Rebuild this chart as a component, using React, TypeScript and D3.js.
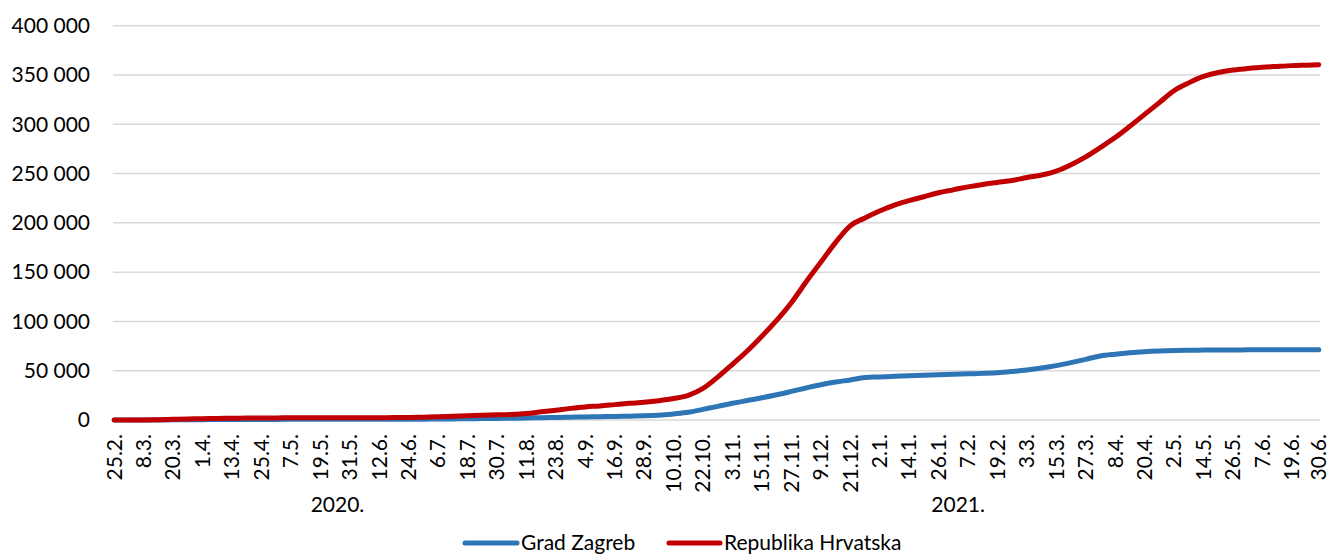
import React from "react";
import * as d3 from "d3";

// Tick labels on the category axis (every 12th day, plus the last day)
const tickLabels: string[] = [
  "25.2.", "8.3.", "20.3.", "1.4.", "13.4.", "25.4.", "7.5.", "19.5.", "31.5.", "12.6.",
  "24.6.", "6.7.", "18.7.", "30.7.", "11.8.", "23.8.", "4.9.", "16.9.", "28.9.", "10.10.",
  "22.10.", "3.11.", "15.11.", "27.11.", "9.12.", "21.12.", "2.1.", "14.1.", "26.1.", "7.2.",
  "19.2.", "3.3.", "15.3.", "27.3.", "8.4.", "20.4.", "2.5.", "14.5.", "26.5.", "7.6.",
  "19.6.", "30.6.",
];
const lastDay = 491; // 25.2.2020 -> 30.6.2021
const tickDays: number[] = tickLabels.map((_, i) => (i === tickLabels.length - 1 ? lastDay : i * 12));

// Values every 6th day (and the last day)
const sampleDays: number[] = d3.range(0, 487, 6).concat([lastDay]);

const republikaHrvatska: number[] = [
  0, 10, 80, 300, 700, 1000, 1300, 1600, 1800, 2000,
  2100, 2150, 2200, 2230, 2250, 2260, 2280, 2300, 2350, 2450,
  2600, 2900, 3300, 3800, 4300, 4800, 5200, 5700, 6600, 8300,
  10000, 11800, 13300, 14300, 15600, 16900, 18000, 19600, 21800, 25000,
  32000, 43500, 56500, 70000, 85000, 101000, 119000, 140000, 160000, 180000,
  197000, 205000, 212000, 218000, 222500, 226500, 230500, 233500, 236500, 239000,
  241000, 243000, 246000, 248500, 252500, 259000, 267000, 276500, 286500, 298000,
  310000, 322000, 334000, 342000, 348500, 352500, 355000, 356500, 357800, 358700,
  359500, 360000, 360400,
];

const gradZagreb: number[] = [
  0, 0, 10, 60, 150, 250, 350, 430, 500, 560,
  600, 630, 650, 660, 670, 675, 680, 690, 700, 730,
  780, 870, 980, 1100, 1250, 1400, 1550, 1750, 2000, 2300,
  2600, 2900, 3150, 3400, 3650, 3900, 4200, 4900, 6200, 7800,
  10800, 13800, 17000, 19800, 22500, 25600, 29000, 32500, 35800, 38500,
  40600, 43000, 43700, 44300, 44800, 45300, 45800, 46300, 46800, 47300,
  47900, 49200, 50800, 52800, 55200, 58200, 61500, 65000, 66800, 68200,
  69200, 69900, 70400, 70700, 70900, 71000, 71100, 71150, 71200, 71250,
  71300, 71300, 71300,
];

const yTicks: number[] = [0, 50000, 100000, 150000, 200000, 250000, 300000, 350000, 400000];

const years: { label: string; day: number }[] = [
  { label: "2020.", day: 91 },
  { label: "2021.", day: 344 },
];

const series = [
  { name: "Grad Zagreb", values: gradZagreb, color: "#2E75B6" },
  { name: "Republika Hrvatska", values: republikaHrvatska, color: "#C00000" },
];

const App: React.FC = () => {
  const width = 1332;
  const height = 555;
  const plotLeft = 113;
  const plotRight = 1320;
  const plotTop = 25.7;
  const plotBottom = 420;
  const font = "Lato, 'Open Sans', sans-serif";
  const fontSize = 21;

  const xScale = d3.scaleLinear().domain([-0.5, lastDay + 0.5]).range([plotLeft, plotRight]);
  const yScale = d3.scaleLinear().domain([0, 400000]).range([plotBottom, plotTop]);

  const fmt = (v: number) => d3.format(",")(v).replace(/,/g, " ");

  const line = d3
    .line<number>()
    .x((_, i) => xScale(sampleDays[i]))
    .y((v) => yScale(v))
    .curve(d3.curveMonotoneX);

  return (
    <svg
      width={width}
      height={height}
      style={{ position: "absolute", left: 0, top: 0, background: "#fff" }}
      fontFamily={font}
      fontSize={fontSize}
    >
      {/* Grid lines */}
      {yTicks.map((t) => (
        <line
          key={`g-${t}`}
          x1={plotLeft}
          x2={plotRight}
          y1={yScale(t)}
          y2={yScale(t)}
          stroke="#D9D9D9"
          strokeWidth={1.5}
        />
      ))}
      {/* Y labels */}
      {yTicks.map((t) => (
        <text key={`y-${t}`} x={90} y={yScale(t)} dy="0.35em" textAnchor="end" fill="#000">
          {fmt(t)}
        </text>
      ))}
      {/* Lines */}
      {series.map((s) => (
        <path
          key={s.name}
          d={line(s.values) || ""}
          fill="none"
          stroke={s.color}
          strokeWidth={5}
          strokeLinejoin="round"
          strokeLinecap="round"
        />
      ))}
      {/* X labels */}
      {tickDays.map((d, i) => (
        <text
          key={`x-${i}`}
          transform={`translate(${xScale(d)},434) rotate(-90)`}
          dy="0.35em"
          textAnchor="end"
          fill="#000"
        >
          {tickLabels[i]}
        </text>
      ))}
      {/* Years */}
      {years.map((y) => (
        <text key={y.label} x={xScale(y.day)} y={505} dy="0.35em" textAnchor="middle" fill="#000">
          {y.label}
        </text>
      ))}
      {/* Legend */}
      <g>
        <line x1={465} x2={517} y1={543} y2={543} stroke={series[0].color} strokeWidth={5} strokeLinecap="round" />
        <text x={521} y={543} dy="0.35em" fill="#000">{series[0].name}</text>
        <line x1={669} x2={720} y1={543} y2={543} stroke={series[1].color} strokeWidth={5} strokeLinecap="round" />
        <text x={724} y={543} dy="0.35em" fill="#000">{series[1].name}</text>
      </g>
    </svg>
  );
};

export default App;
